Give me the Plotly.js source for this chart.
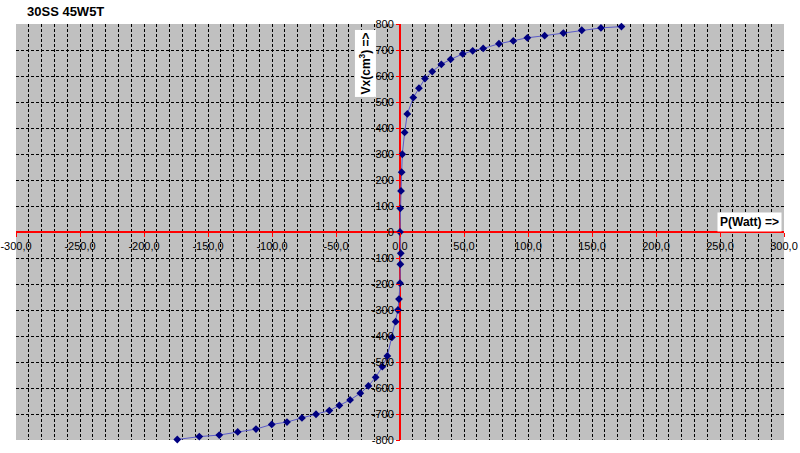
<!DOCTYPE html>
<html>
<head>
<meta charset="utf-8">
<script src="https://cdn.plot.ly/plotly-3.0.1.min.js"></script>
<style>
html,body{margin:0;padding:0;background:#fff;}
#chart{width:800px;height:453px;}
</style>
</head>
<body>
<div id="chart"></div>
<script>
// Data
var powerWatt = [-174, -156.8, -141.2, -126.8, -112.5, -100.2, -88.3, -76.6, -65.6, -55.2, -47.4, -39, -31, -24.7, -19, -13.8, -9.9, -6.3, -3.4, -1.6, -0.8, 0, 0.3, 0.6, 0, 0.2, 0.8, 1.3, 1.8, 3.6, 5.7, 10.4, 14.8, 19.5, 25.2, 32.3, 39.6, 49, 56.8, 65, 77.3, 88.5, 99.5, 113, 127.6, 142, 157, 173];
var volumeCm3 = [-798, -787, -781, -769, -758, -740, -731, -715, -701, -687, -667, -646, -620, -592, -559, -518, -477, -405, -345, -300, -258, -197, -124, -82, 0, 91, 158, 230, 299, 383, 454, 517, 553, 590, 617, 645, 664, 685, 697, 706, 724, 735, 747, 755, 765, 776, 785, 790];

var xTickVals = [-300, -250, -200, -150, -100, -50, 0, 50, 100, 150, 200, 250, 300];
var xTickText = ["-300,0", "-250,0", "-200,0", "-150,0", "-100,0", "-50,0", "0,0", "50,0", "100,0", "150,0", "200,0", "250,0", "300,0"];
var yTickVals = [-800, -700, -600, -500, -400, -300, -200, -100, 0, 100, 200, 300, 400, 500, 600, 700, 800];
var yTickText = ["-800", "-700", "-600", "-500", "-400", "-300", "-200", "-100", "0", "100", "200", "300", "400", "500", "600", "700", "800"];

var chartTitle = "30SS 45W5T";
var xTitle = "P(Watt) =>";
var yTitle = "Vx(cm<sup>3</sup>) =>";

var trace = {
  x: powerWatt,
  y: volumeCm3,
  type: 'scatter',
  mode: 'lines+markers',
  line: {color: '#5a5ac8', width: 1},
  marker: {symbol: 'diamond', size: 6, color: '#000080', line: {width: 0}},
  cliponaxis: false,
  hoverinfo: 'x+y'
};

var gridDash = '3px,2px';
var layout = {
  width: 800,
  height: 453,
  paper_bgcolor: '#ffffff',
  plot_bgcolor: '#c0c0c0',
  margin: {l: 16, r: 16, t: 24, b: 13, pad: 0},
  showlegend: false,
  font: {family: 'Liberation Sans, Arial, sans-serif', size: 11, color: '#000'},
  title: {
    text: '<b>' + chartTitle + '</b>',
    font: {family: 'Liberation Sans, Arial, sans-serif', size: 13, color: '#000'},
    xref: 'container', yref: 'container',
    x: 27 / 800, xanchor: 'left',
    y: 1 - 11 / 453, yanchor: 'middle'
  },
  xaxis: {
    range: [-300, 300],
    anchor: 'free',
    position: 0.5,
    tickmode: 'array',
    tickvals: xTickVals,
    ticktext: xTickText,
    ticks: 'outside',
    ticklen: 4,
    tickcolor: '#ff0000',
    tickfont: {size: 11, color: '#000'},
    showline: false,
    showgrid: true,
    gridcolor: '#000000',
    gridwidth: 1,
    griddash: gridDash,
    minor: {dtick: 10, showgrid: true, gridcolor: '#000000', gridwidth: 1, griddash: gridDash, ticks: ''},
    zeroline: true,
    zerolinecolor: '#ff0000',
    zerolinewidth: 2,
    fixedrange: true
  },
  yaxis: {
    range: [-800, 800],
    anchor: 'free',
    position: 0.5,
    tickmode: 'array',
    tickvals: yTickVals,
    ticktext: yTickText,
    ticks: 'outside',
    ticklen: 4,
    tickcolor: '#ff0000',
    tickfont: {size: 11, color: '#000'},
    showline: false,
    showgrid: true,
    gridcolor: '#000000',
    gridwidth: 1,
    griddash: gridDash,
    minor: {showgrid: false, ticks: ''},
    zeroline: true,
    zerolinecolor: '#ff0000',
    zerolinewidth: 2,
    fixedrange: true
  },
  annotations: [
    {
      text: '<b>' + xTitle + '</b>',
      xref: 'x', yref: 'y',
      x: 273, y: 38,
      xanchor: 'center', yanchor: 'middle',
      showarrow: false,
      bgcolor: '#ffffff',
      borderpad: 2,
      font: {family: 'Liberation Sans, Arial, sans-serif', size: 12, color: '#000'}
    },
    {
      text: '<b>' + yTitle + '</b>',
      xref: 'x', yref: 'y',
      x: -27, y: 650,
      xanchor: 'center', yanchor: 'middle',
      textangle: -90,
      showarrow: false,
      bgcolor: '#ffffff',
      borderpad: 2,
      font: {family: 'Liberation Sans, Arial, sans-serif', size: 12, color: '#000'}
    }
  ]
};

Plotly.newPlot('chart', [trace], layout, {displayModeBar: false, staticPlot: true});
</script>
</body>
</html>
